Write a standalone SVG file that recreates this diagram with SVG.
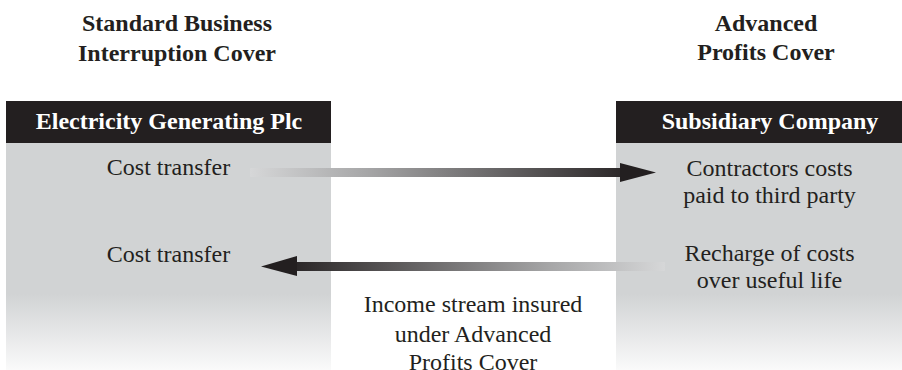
<svg xmlns="http://www.w3.org/2000/svg" width="902" height="370" viewBox="0 0 902 370">
  <defs>
    <linearGradient id="body" gradientUnits="userSpaceOnUse" x1="0" y1="143" x2="0" y2="372">
      <stop offset="0" stop-color="#d1d3d4"/>
      <stop offset="0.66" stop-color="#d1d3d4"/>
      <stop offset="1" stop-color="#fbfbfb"/>
    </linearGradient>
    <linearGradient id="gRight" gradientUnits="userSpaceOnUse" x1="250" y1="0" x2="640" y2="0">
      <stop offset="0" stop-color="#d6d7d8"/>
      <stop offset="0.3" stop-color="#a6a6a7"/>
      <stop offset="1" stop-color="#231f20"/>
    </linearGradient>
    <linearGradient id="gLeft" gradientUnits="userSpaceOnUse" x1="665" y1="0" x2="280" y2="0">
      <stop offset="0" stop-color="#d6d7d8"/>
      <stop offset="0.3" stop-color="#a6a6a7"/>
      <stop offset="1" stop-color="#231f20"/>
    </linearGradient>
    <style>
      .title { font-family: "Liberation Serif", "Times New Roman", serif; font-weight: bold; font-size: 24px; fill: #231f20; text-anchor: middle; }
      .head { font-family: "Liberation Serif", "Times New Roman", serif; font-weight: bold; font-size: 24px; fill: #ffffff; text-anchor: middle; }
      .txt { font-family: "Liberation Serif", "Times New Roman", serif; font-size: 24px; fill: #231f20; text-anchor: middle; }
      .hbar { fill: #231f20; }
      .bodyfill { fill: url(#body); }
    </style>
  </defs>

  <g id="title-left">
    <text class="title" x="177" y="31">Standard Business</text>
    <text class="title" x="177" y="61">Interruption Cover</text>
  </g>
  <g id="title-right">
    <text class="title" x="766" y="31">Advanced</text>
    <text class="title" x="766" y="60">Profits Cover</text>
  </g>

  <g id="node-electricity">
    <rect class="bodyfill" x="6" y="143" width="325" height="227"/>
    <rect class="hbar" x="6" y="101" width="325" height="42"/>
    <text class="head" x="169" y="129">Electricity Generating Plc</text>
    <text class="txt" x="168.5" y="175">Cost transfer</text>
    <text class="txt" x="168.5" y="262">Cost transfer</text>
  </g>

  <g id="node-subsidiary">
    <rect class="bodyfill" x="616" y="143" width="286" height="227"/>
    <rect class="hbar" x="616" y="101" width="286" height="42"/>
    <text class="head" x="770" y="129">Subsidiary Company</text>
    <text class="txt" x="769.5" y="176">Contractors costs</text>
    <text class="txt" x="769.5" y="203">paid to third party</text>
    <text class="txt" x="769.5" y="261">Recharge of costs</text>
    <text class="txt" x="769.5" y="288">over useful life</text>
  </g>

  <g id="label-income">
    <text class="txt" x="473" y="312">Income stream insured</text>
    <text class="txt" x="473" y="342">under Advanced</text>
    <text class="txt" x="473" y="370">Profits Cover</text>
  </g>

  <g id="connectors">
    <rect x="250" y="168" width="372" height="9" fill="url(#gRight)"/>
    <polygon points="620,163 656,172.5 620,182" fill="#231f20"/>
    <rect x="295" y="262" width="370" height="9" fill="url(#gLeft)"/>
    <polygon points="297,256 261,266.5 297,276" fill="#231f20"/>
  </g>
</svg>
